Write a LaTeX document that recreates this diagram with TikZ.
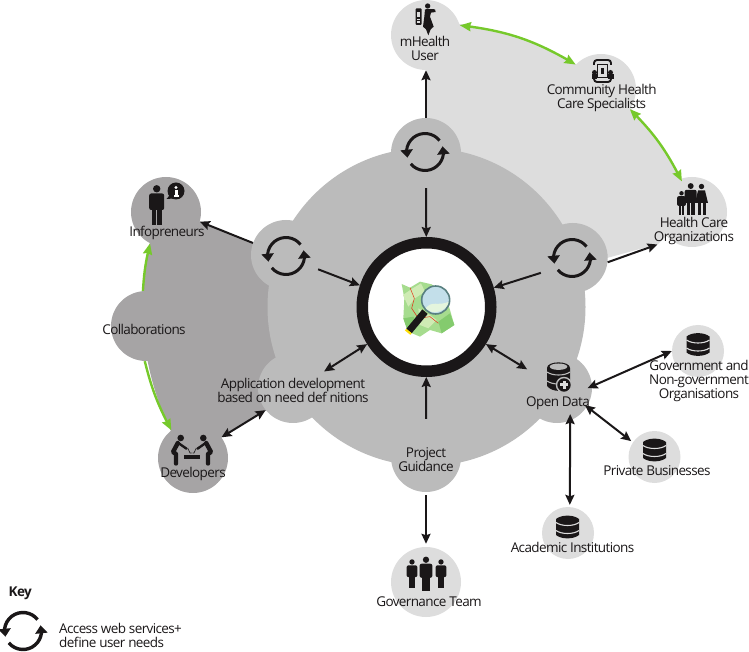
\documentclass[tikz,border=0pt]{standalone}
\usepackage{fontspec}
\setmainfont[LetterSpace=-4.5]{Open Sans}
\usetikzlibrary{arrows.meta,bending}
\definecolor{paleGrey}{HTML}{DDDDDD}
\definecolor{midGrey}{HTML}{BBBBBB}
\definecolor{darkGrey}{HTML}{A6A4A5}
\definecolor{ink}{HTML}{1A1718}
\definecolor{leaf}{HTML}{76C92B}
\definecolor{mapBase}{HTML}{A6DC8E}
\definecolor{mapPale}{HTML}{CFEBB4}
\definecolor{mapDeep}{HTML}{84CB6E}
\definecolor{glass}{HTML}{C3DFEA}
\tikzset{
	blob/.style={circle,inner sep=0pt,minimum size=70pt},
	smallblob/.style={circle,inner sep=0pt,minimum size=52pt,fill=paleGrey},
	caption/.style={align=center,inner sep=0pt,text=ink,font=\fontsize{13.5}{14}\selectfont},
	oneway/.style={line width=2pt,draw=ink,-{Stealth[length=10pt,width=9pt,inset=1.5pt]}},
	twoway/.style={line width=2pt,draw=ink,{Stealth[length=10pt,width=9pt,inset=1.5pt]}-{Stealth[length=10pt,width=9pt,inset=1.5pt]}},
	greenway/.style={line width=2.4pt,draw=leaf},
	greentip/.style={-{Stealth[length=11pt,width=9pt,inset=1pt,flex]}},
	greentips/.style={{Stealth[length=11pt,width=9pt,inset=1pt,flex]}-{Stealth[length=11pt,width=9pt,inset=1pt,flex]}},
	pics/cycleicon/.style={code={
		\draw[ink,line width=#1,-{Triangle[length=8pt,width=12pt,flex]}] (38:18.5) arc[start angle=38,end angle=198,radius=18.5];
		\draw[ink,line width=#1,-{Triangle[length=8pt,width=12pt,flex]}] (220:18.5) arc[start angle=220,end angle=378,radius=18.5];
	}},
	pics/personicon/.style={code={
		\fill (0,36.2) circle (3.7);
		\fill[rounded corners=2pt] (-7.5,15) -- (-7.5,31.5) -- (7.5,31.5) -- (7.5,15) -- cycle;
		\fill (-4.8,0) rectangle (-0.5,18);
		\fill (0.5,0) rectangle (4.8,18);
	}},
	pics/stackicon/.style={code={
		\fill (-11.5,8) .. controls (-6,12.5) and (6,12.5) .. (11.5,8) -- (11.5,-8) .. controls (6,-12.5) and (-6,-12.5) .. (-11.5,-8) -- cycle;
		\draw[paleGrey,line width=1.1pt] (-11.5,4.5) .. controls (-6,0.5) and (6,0.5) .. (11.5,4.5);
		\draw[paleGrey,line width=1.1pt] (-11.5,-3.5) .. controls (-6,-7.5) and (6,-7.5) .. (11.5,-3.5);
	}},
}
\begin{document}
\begin{tikzpicture}[x=1pt,y=1pt]
	\useasboundingbox (0,0) rectangle (749,651);
	% backing regions
	\fill[paleGrey] (426.5,344) -- ++(90:285) arc[start angle=90,end angle=27,radius=285] -- (692,439) -- (658,407) -- (607,393) -- cycle;
	\fill[darkGrey] (166,439) -- (201,429) -- (253,408) -- (426.5,344) -- (265,240) -- (222,214) -- (193,193) -- (171.2,219.5) arc[start angle=206,end angle=167,radius=284] -- cycle;
	\fill[midGrey] (426.5,344) circle (159);

	\node[blob,fill=midGrey] (cycTop) at (426,498) {};
	\node[blob,fill=midGrey] (cycRight) at (572.7,393) {};
	\node[blob,fill=midGrey] (cycLeft) at (286,396) {};
	\node[blob,fill=midGrey] (appDev) at (293,263) {};
	\node[blob,fill=midGrey] (openData) at (557,263) {};
	\node[blob,fill=midGrey] (guidance) at (426,194) {};
	\node[blob,fill=paleGrey] (mHealth) at (426,616) {};
	\node[blob,fill=paleGrey] (community) at (601,562) {};
	\node[blob,fill=paleGrey] (healthCare) at (692,439) {};
	\node[blob,fill=darkGrey] (infopreneurs) at (166,439) {};
	\node[blob,fill=darkGrey] (collab) at (146,325) {};
	\node[blob,fill=darkGrey] (developers) at (193,193) {};
	\node[blob,fill=paleGrey] (governance) at (426,69) {};
	\node[smallblob] (government) at (698,300) {};
	\node[smallblob] (privateBiz) at (654.5,194) {};
	\node[smallblob] (academic) at (568,118) {};
	\node[circle,inner sep=0pt,minimum size=128.5pt,line width=11.5pt,draw=ink,fill=white] (hub) at (426.5,344) {};
	\coordinate (healthIn) at (657.5,406.5);

	% connectors
	\draw[oneway] (cycTop) -- (mHealth);
	\draw[oneway] (cycTop) -- (hub);
	\draw[oneway] (cycRight.205) -- (hub.16);
	\draw[oneway] (cycRight.-7) -- (healthIn);
	\draw[oneway] (cycLeft.160) -- (infopreneurs.-16);
	\draw[oneway] (cycLeft.-24) -- (hub.162);
	\draw[twoway] (appDev.28) -- (hub.212);
	\draw[twoway] (appDev.219) -- (developers.36);
	\draw[twoway] (hub.-32) -- (openData.148);
	\draw[oneway,shorten <=3pt] (guidance) -- (hub);
	\draw[oneway,shorten <=3pt,shorten >=3pt] (guidance) -- (governance);
	\draw[twoway,shorten <=-5pt] (openData.3) -- (government.180);
	\draw[twoway,shorten <=-2.5pt,shorten >=2pt] (openData.-32) -- (privateBiz.146);
	\draw[twoway,shorten <=-6.5pt,shorten >=2pt] (openData.-68) -- (academic.86);
	\draw[greenway,greentips] (mHealth.16) to[bend left=12] (community.136);
	\draw[greenway,greentips,shorten >=-3pt] (community.-35) to[bend left=9] (healthCare.109);
	\draw[greenway,greentip] (collab.95) to[bend left=5] (infopreneurs.243);
	\draw[greenway,greentip] (collab.268) to[bend right=7] (developers.128);

	% cycle icons
	\pic at (425,499) {cycleicon=3pt};
	\pic at (572,393) {cycleicon=3pt};
	\pic at (286,395) {cycleicon=3pt};
	\pic at (23,20) {cycleicon=3.4pt};

	% map
	\begin{scope}[shift={(395,376)},x=.3333pt,y=-.3333pt]
		\fill[mapBase] (20,27) -- (45,38) -- (75,20) -- (110,28) -- (150,60) -- (165,105) -- (178,150) -- (140,175) -- (105,165) -- (75,185) -- (40,170) -- (25,130) -- (28,70) -- cycle;
		\fill[mapPale] (24,60) -- (50,42) -- (78,25) -- (90,50) -- (60,70) -- (40,95) -- cycle;
		\fill[mapDeep] (130,140) -- (165,115) -- (178,150) -- (140,175) -- cycle;
		\fill[mapDeep] (25,130) -- (55,125) -- (70,150) -- (35,160) -- cycle;
		\fill[mapPale] (70,100) -- (105,120) -- (125,135) -- (100,160) -- (75,150) -- cycle;
		\draw[red!60!brown,line width=.5pt] (45,38) -- (58,70) -- (50,100) -- (70,130) -- (105,125) -- (130,145);
		\draw[ink,line width=7pt] (90,110) -- (42,168);
		\draw[yellow!80!orange,line width=7pt] (42,168) -- (38,173);
		\fill[glass] (122,75) circle (42);
		\fill[white!70!mapBase] (92,100) .. controls (110,75) and (130,95) .. (162,80) .. controls (158,105) and (115,125) .. (92,100) -- cycle;
		\draw[gray!70!teal,line width=1.6pt] (122,75) circle (42);
	\end{scope}

	% person figures
	\pic[ink,scale=1] at (156.7,426) {personicon};
	\fill[ink] (176,460) circle (8.5);
	\fill[ink] (170,456) -- (166.5,452) -- (174,452.5) -- cycle;
	\fill[white] (174.5,454.5) rectangle (177.5,460.5);
	\fill[white] (173.5,454) rectangle (178.5,455.5);
	\fill[white] (176,463.5) circle (1.7);

	\begin{scope}[shift={(405,651)},x=.3333pt,y=-.3333pt]
		\fill[ink] (68,18) circle (8);
		\fill[ink] (60,28) -- (58,50) -- (54,80) -- (63,88) -- (70,106) -- (77,88) -- (86,80) -- (75,50) -- (78,38) -- (92,36) -- (90,28) -- (75,27) -- cycle;
		\fill[ink,rounded corners=1pt] (32,25) rectangle (50,75);
		\fill[paleGrey] (37,35) rectangle (46,50);
		\fill[paleGrey] (37,56) rectangle (46,60);
		\fill[paleGrey] (37,64) rectangle (46,68);
	\end{scope}

	\draw[ink,line width=1.9pt,rounded corners=3pt] (594,569) rectangle (611,591);
	\fill[paleGrey] (591,574) rectangle (614,586);
	\draw[ink,line width=.8pt] (597.5,573.5) rectangle (607.5,587);
	\fill[ink] (594.5,578.5) circle (2.5) (610.5,578.5) circle (2.5);
	\fill[ink] (591.5,571.5) rectangle (597,577);
	\fill[ink] (608,571.5) rectangle (613.5,577);
	\fill[ink] (601,577) rectangle (604,583);

	\pic[ink,scale=.8] at (690.7,436) {personicon};
	\pic[ink,scale=.6] at (681.5,436) {personicon};
	\fill[ink] (701.5,464.5) circle (2.7);
	\fill[ink] (698,460.5) -- (705,460.5) -- (708,448) -- (695,448) -- cycle;
	\fill[ink] (697.5,436) rectangle (700.5,449);
	\fill[ink] (702.5,436) rectangle (705.5,449);

	\pic[ink,scale=.85] at (426,60.5) {personicon};
	\pic[ink,scale=.72] at (412,63) {personicon};
	\pic[ink,scale=.72] at (441,63) {personicon};

	\begin{scope}[shift={(192,196)}]
		\foreach \side in {1,-1} {
			\begin{scope}[xscale=\side]
				\fill[ink] (-11.3,17) circle (3.3);
				\draw[ink,line width=4.4pt,line cap=round,line join=round] (-14.2,12) -- (-19,3) -- (-16,1) -- (-16,-8.5);
				\draw[ink,line width=2.4pt,line cap=round] (-13.7,12) -- (-5.5,6.3);
				\draw[ink,line width=.6pt] (-4.3,7) -- (-2,2) -- (-.5,2);
			\end{scope}
		}
		\fill[ink] (-8,0) rectangle (7.5,-3.5);
	\end{scope}

	% database stacks
	\pic[ink] at (698,306.5) {stackicon};
	\pic[ink] at (654.5,201) {stackicon};
	\pic[ink] at (567.5,124) {stackicon};
	\begin{scope}[shift={(558.5,274)}]
		\fill[ink] (-11.5,9) .. controls (-11.5,16.5) and (11.5,16.5) .. (11.5,9) -- (11.5,-9) .. controls (6,-15.5) and (-6,-15.5) .. (-11.5,-9) -- cycle;
		\fill[midGrey] (0,10.3) ellipse (8.8 and 3.2);
		\draw[midGrey,line width=1.1pt] (-11.5,5) .. controls (-6,1) and (6,1) .. (11.5,5);
		\draw[midGrey,line width=1.1pt] (-11.5,-4) .. controls (-6,-8) and (6,-8) .. (11.5,-4);
		\fill[ink,draw=midGrey,line width=1.4pt] (5.5,-8) circle (7.5);
		\fill[paleGrey] (4,-12) rectangle (7,-4);
		\fill[paleGrey] (1.5,-9.5) rectangle (9.5,-6.5);
	\end{scope}

	% captions
	\node[caption] (mHealthText) at (425,603) {mHealth\\User};
	\node[caption] (communityText) at (601.7,553) {Community Health\\Care Specialists};
	\node[caption] (healthCareText) at (694,420) {Health Care\\Organizations};
	\node[caption] (infopreneursText) at (167,418) {Infopreneurs};
	\node[caption] (collabText) at (144,322) {Collaborations};
	\node[caption] (appDevText) at (293,261) {Application development\\based on need def nitions};
	\node[caption] (developersText) at (193,177) {Developers};
	\node[caption] (guidanceText) at (426,191.5) {Project\\Guidance};
	\node[caption] (governanceText) at (429,49) {Governance Team};
	\node[caption] (academicText) at (572.5,104) {Academic Institutions};
	\node[caption] (privateText) at (657,180) {Private Businesses};
	\node[caption] (governmentText) at (699,270) {Government and\\Non-government\\Organisations};
	\node[caption] (openDataText) at (558,248) {Open Data};
	\node[caption,anchor=west,font=\fontsize{13.5}{14}\selectfont\bfseries] (keyText) at (8.5,58) {Key};
	\node[caption,anchor=west,align=left,font=\fontsize{13.5}{14}\selectfont] (keyNote) at (59,16) {Access web services+\\define user needs};
\end{tikzpicture}
\end{document}
